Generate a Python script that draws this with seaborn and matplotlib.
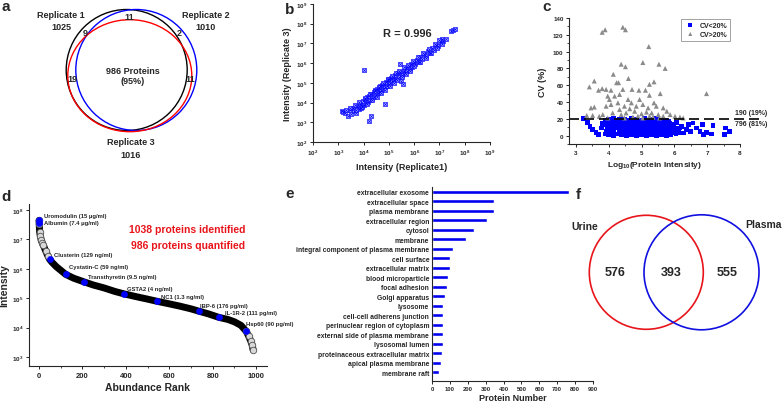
import numpy as np
import pandas as pd
import matplotlib
matplotlib.use("Agg")
import matplotlib.pyplot as plt
import seaborn as sns
from matplotlib.patches import Circle, Ellipse
from matplotlib.ticker import MultipleLocator, FixedLocator, NullLocator

W, H = 784, 402

# -----------------------------
# data
# -----------------------------
# a: replicate venn
rep_names = ["Replicate 1", "Replicate 2", "Replicate 3"]
rep_totals = [1025, 1010, 1016]
rep_overlaps = ["11", "9", "2", "19", "11"]
rep_common = 986
rep_common_pct = 95

# b: replicate1 vs replicate3 (log10 intensity)
rep1_log = [3.13, 3.19, 3.28, 3.39, 3.45, 3.52, 3.58, 3.63, 3.70, 3.74, 3.80, 3.85, 3.88, 3.93, 3.97,
            4.00, 4.02, 4.06, 4.10, 4.13, 4.18, 4.20, 4.22, 4.27, 4.30, 4.31, 4.35, 4.40, 4.42, 4.47,
            4.50, 4.53, 4.57, 4.60, 4.63, 4.66, 4.70, 4.73, 4.77, 4.80, 4.85, 4.85, 4.88, 4.92, 4.95,
            5.00, 5.02, 5.06, 5.10, 5.14, 5.18, 5.22, 5.26, 5.30, 5.35, 5.40, 5.45, 5.45, 5.48, 5.50,
            5.55, 5.58, 5.62, 5.68, 5.72, 5.78, 5.83, 5.88, 5.92, 5.98, 6.05, 6.10, 6.18, 6.25, 6.32,
            6.40, 6.48, 6.55, 6.62, 6.70, 6.78, 6.85, 6.95, 7.05, 7.12, 7.15, 7.25, 7.45, 7.55, 7.60,
            3.30, 3.48, 3.65, 3.72, 3.83, 3.95, 4.05, 4.12, 4.24, 4.33, 4.45, 4.52, 4.62, 4.68, 4.78,
            4.83, 4.97, 5.04, 5.12, 5.20, 5.28, 5.33, 5.42, 5.52, 5.60, 5.66, 5.75, 5.82, 5.95, 6.00,
            6.15, 6.22, 6.35, 6.45, 6.58, 6.68, 6.82, 6.92, 7.00, 7.10]
rep3_log = [3.58, 3.50, 3.45, 3.33, 3.62, 3.40, 3.75, 3.55, 3.48, 3.82, 3.66, 3.95, 3.72, 3.85, 4.10,
            5.65, 3.90, 4.18, 4.00, 4.28, 4.05, 3.06, 4.32, 4.15, 3.30, 4.45, 4.25, 4.55, 4.30, 4.62,
            4.40, 4.70, 4.48, 4.75, 4.55, 4.82, 4.62, 4.90, 4.70, 4.95, 3.92, 4.78, 5.05, 4.85, 5.12,
            4.92, 5.20, 5.00, 5.25, 5.08, 5.32, 5.15, 5.40, 5.22, 5.48, 5.30, 5.55, 5.95, 5.11, 5.38,
            4.94, 5.62, 5.48, 5.75, 5.58, 5.85, 5.70, 5.95, 5.80, 6.05, 5.95, 6.18, 6.08, 6.30, 6.20,
            6.45, 6.35, 6.60, 6.52, 6.75, 6.68, 6.90, 6.88, 7.08, 7.22, 7.12, 7.22, 7.62, 7.68, 7.72,
            3.60, 3.70, 3.88, 3.60, 4.02, 3.78, 4.25, 3.92, 4.42, 4.12, 4.58, 4.30, 4.80, 4.50, 4.98,
            4.62, 5.18, 4.82, 5.35, 5.00, 5.48, 5.12, 5.62, 5.28, 5.78, 5.45, 5.92, 5.60, 6.12, 5.85,
            6.32, 6.05, 6.50, 6.25, 6.72, 6.50, 6.98, 6.78, 7.18, 6.95]
r_value = 0.996

# c: CV vs log10 intensity
cv_low = [
    (3.22, 20), (3.36, 16), (3.43, 11), (3.51, 7), (3.61, 4), (3.69, 1), (3.77, 9), (3.82, 14), (3.92, 5),
    (3.90, 2), (3.90, 13), (3.90, 18),
    (4.00, 1), (4.00, 10), (4.00, 15), (4.00, 19),
    (4.08, 3), (4.08, 7), (4.08, 12), (4.08, 17),
    (4.15, 0), (4.15, 6), (4.15, 11), (4.15, 16), (4.15, 20),
    (4.25, 2), (4.25, 9), (4.25, 14), (4.25, 18),
    (4.32, 4), (4.32, 8), (4.32, 12), (4.32, 19),
    (4.40, 1), (4.40, 6), (4.40, 11), (4.40, 16),
    (4.47, 3), (4.47, 9), (4.47, 14), (4.47, 19),
    (4.55, 0), (4.55, 5), (4.55, 10), (4.55, 17),
    (4.62, 2), (4.62, 7), (4.62, 13), (4.62, 18),
    (4.70, 1), (4.70, 4), (4.70, 9), (4.70, 15), (4.70, 20),
    (4.78, 3), (4.78, 8), (4.78, 12), (4.78, 17),
    (4.85, 0), (4.85, 6), (4.85, 11), (4.85, 16), (4.85, 19),
    (4.93, 2), (4.93, 5), (4.93, 10), (4.93, 14), (4.93, 18),
    (5.00, 1), (5.00, 7), (5.00, 12), (5.00, 17),
    (5.08, 3), (5.08, 6), (5.08, 9), (5.08, 15), (5.08, 20),
    (5.15, 0), (5.15, 4), (5.15, 11), (5.15, 16),
    (5.22, 2), (5.22, 8), (5.22, 13), (5.22, 18),
    (5.30, 1), (5.30, 5), (5.30, 10), (5.30, 15), (5.30, 19),
    (5.38, 3), (5.38, 7), (5.38, 12), (5.38, 17),
    (5.45, 0), (5.45, 6), (5.45, 11), (5.45, 14), (5.45, 20),
    (5.52, 2), (5.52, 5), (5.52, 9), (5.52, 16),
    (5.60, 1), (5.60, 8), (5.60, 13), (5.60, 18),
    (5.68, 3), (5.68, 6), (5.68, 10), (5.68, 15),
    (5.75, 0), (5.75, 4), (5.75, 9), (5.75, 14),
    (5.83, 2), (5.83, 7), (5.83, 12), (5.83, 17),
    (5.90, 1), (5.90, 5), (5.90, 10),
    (5.98, 3), (5.98, 8), (5.98, 13),
    (6.05, 2), (6.05, 6), (6.07, 16), (6.12, 4), (6.12, 9),
    (6.17, 9), (6.27, 3), (6.37, 7), (6.42, 13), (6.57, 15), (6.67, 9), (6.78, 5), (6.86, 13),
    (6.88, 1), (6.98, 4), (7.13, 2), (7.18, 12), (7.54, 1), (7.56, 9), (7.67, 5),
    (3.96, 8), (4.04, 4), (4.20, 13), (4.36, 16), (4.52, 7), (4.66, 11), (4.82, 14), (4.97, 8),
    (5.12, 13), (5.26, 7), (5.42, 16), (5.56, 12), (5.72, 18), (5.87, 14), (6.22, 11), (6.48, 5),
]
cv_high = [
    (3.80, 123), (3.89, 126), (4.43, 129), (4.51, 126), (5.22, 106), (5.04, 87), (4.38, 85), (4.51, 82),
    (5.53, 85), (5.72, 80), (4.14, 73), (4.60, 68), (3.56, 65), (3.41, 58), (4.24, 63), (4.30, 63),
    (5.38, 64), (5.24, 61), (6.98, 50), (4.92, 54), (3.69, 54), (3.80, 56), (3.92, 55), (4.07, 54),
    (4.43, 55), (4.71, 55), (5.12, 54), (5.57, 50), (5.24, 48), (3.97, 47), (4.02, 43), (4.18, 47),
    (4.33, 49), (4.59, 43), (4.94, 43), (5.38, 39), (3.46, 33), (3.56, 34), (3.92, 35), (4.07, 37),
    (4.28, 39), (4.48, 35), (4.69, 39), (4.84, 35), (5.04, 37), (5.20, 33), (5.45, 35), (5.66, 33),
    (5.77, 29), (5.87, 25), (6.02, 23), (6.17, 22), (3.33, 24), (3.51, 24), (3.82, 25), (4.12, 27),
    (4.38, 25), (4.53, 27), (4.79, 29), (5.00, 26), (5.15, 28), (5.31, 27), (5.51, 25), (4.33, 31),
    (4.64, 32), (4.89, 23), (5.24, 23), (5.55, 21), (5.66, 23), (6.27, 21), (3.97, 21), (3.71, 23),
    (4.48, 21), (4.74, 22), (5.04, 21), (5.35, 22),
]
cv_cut = 20
n_above, n_below = 190, 796

# d: abundance rank curve (rank, log10 intensity)
rank_curve = [0, 1, 3, 6, 10, 15, 20, 30, 40, 49, 60, 80, 100, 123, 160, 206, 250, 300, 350, 391,
              450, 500, 542, 600, 650, 700, 737, 780, 829, 870, 900, 930, 954, 965, 975, 982, 986]
logint_curve = [7.64, 7.52, 7.25, 7.12, 6.98, 6.88, 6.80, 6.62, 6.45, 6.32, 6.22, 6.07, 5.95, 5.81,
                5.68, 5.56, 5.45, 5.35, 5.23, 5.15, 5.05, 4.97, 4.90, 4.81, 4.73, 4.64, 4.56, 4.47,
                4.35, 4.28, 4.20, 4.08, 3.88, 3.72, 3.55, 3.40, 3.25]
marker_names = ["Uromodulin (15 \u03bcg/ml)", "Albumin (7.4 \u03bcg/ml)", "Clusterin (129 ng/ml)",
                "Cystatin-C (59 ng/ml)", "Transthyretin (9.5 ng/ml)", "GSTA2 (4 ng/ml)",
                "NC1 (1.3 ng/ml)", "IBP-6 (176 pg/ml)", "IL-1R-2 (111 pg/ml)", "Hsp60 (90 pg/ml)"]
marker_rank = [0, 1, 49, 123, 206, 391, 542, 737, 829, 954]
marker_logint = [7.66, 7.56, 6.32, 5.81, 5.56, 5.15, 4.90, 4.56, 4.35, 3.88]
n_identified, n_quantified = 1038, 986

# e: GO cellular component
go_terms = ["extracellular exosome", "extracellular space", "plasma membrane", "extracellular region",
            "cytosol", "membrane", "integral component of plasma membrane", "cell surface",
            "extracellular matrix", "blood microparticle", "focal adhesion", "Golgi apparatus",
            "lysosome", "cell-cell adherens junction", "perinuclear region of cytoplasm",
            "external side of plasma membrane", "lysosomal lumen",
            "proteinaceous extracellular matrix", "apical plasma membrane", "membrane raft"]
go_counts = [765, 348, 345, 310, 236, 191, 116, 102, 100, 88, 82, 73, 64, 63, 61, 59, 59, 54, 51, 40]

# f: urine vs plasma venn
venn_f_names = ["Urine", "Plasma"]
venn_f_counts = [576, 393, 555]

# -----------------------------
# style
# -----------------------------
sns.set_style("ticks")
plt.rcParams['font.family'] = ['Liberation Sans', 'DejaVu Sans']
plt.rcParams['font.weight'] = 'bold'
plt.rcParams['axes.labelweight'] = 'bold'
plt.rcParams['mathtext.fontset'] = 'custom'
plt.rcParams['mathtext.rm'] = 'Liberation Sans:bold'
plt.rcParams['mathtext.bf'] = 'Liberation Sans:bold'
plt.rcParams['mathtext.it'] = 'Liberation Sans:bold'
plt.rcParams['axes.linewidth'] = 0.8
plt.rcParams['xtick.major.width'] = 0.7
plt.rcParams['ytick.major.width'] = 0.7
plt.rcParams['xtick.major.size'] = 2.5
plt.rcParams['ytick.major.size'] = 2.5
plt.rcParams['xtick.minor.size'] = 1.5
plt.rcParams['ytick.minor.size'] = 1.5


def px_axes(fig, left, top, right, bottom):
    return fig.add_axes([left / W, 1 - bottom / H, (right - left) / W, (bottom - top) / H])


def px_text(fig, x, y, s, **kw):
    fig.text(x / W, 1 - y / H, s, **kw)


fig = plt.figure(figsize=(7.84, 4.02), dpi=100)

# panel letters
for letter, (lx, ly) in zip("abcdef", [(1, 11), (285, 14), (542, 11), (1, 201), (285, 198), (576, 199)]):
    px_text(fig, lx, ly, letter, fontsize=11, fontweight='bold', va='baseline')

# -----------------------------
# a. venn of replicates
# -----------------------------
ax = px_axes(fig, 0, 0, 260, 170)
ax.set_xlim(0, 260)
ax.set_ylim(170, 0)
ax.axis('off')
ax.add_patch(Circle((126.7, 71), 60.5, fill=False, ec='black', lw=1.0))
ax.add_patch(Circle((136.3, 71), 60.5, fill=False, ec='blue', lw=1.0))
ax.add_patch(Ellipse((129.8, 76.7), 124, 112, fill=False, ec='red', lw=1.0))
fs = 6.5
for name, tot, (tx, ty) in zip(rep_names, rep_totals, [(61, 15), (206, 15), (131, 143)]):
    ax.text(tx, ty, name, ha='center', va='center', fontsize=fs)
    ax.text(tx, ty + 13, str(tot), ha='center', va='center', fontsize=fs)
for s, (tx, ty) in zip(rep_overlaps, [(129, 17), (85, 33), (179, 33), (72, 79), (190, 80)]):
    ax.text(tx, ty, s, ha='center', va='center', fontsize=fs)
ax.text(133, 71, f"{rep_common} Proteins", ha='center', va='center', fontsize=fs)
ax.text(133, 82, f"({rep_common_pct}%)", ha='center', va='center', fontsize=fs)

# -----------------------------
# b. replicate correlation
# -----------------------------
ax = px_axes(fig, 313, 5, 490, 143)
df_b = pd.DataFrame({"rep1": 10 ** np.array(rep1_log), "rep3": 10 ** np.array(rep3_log)})
ax.set_xscale('log')
ax.set_yscale('log')
sns.scatterplot(data=df_b, x="rep1", y="rep3", ax=ax, marker='s', s=11,
                facecolor='#a8a8ff', edgecolor='blue', linewidth=0.5, alpha=0.9)
sns.scatterplot(data=df_b, x="rep1", y="rep3", ax=ax, marker='x', s=6, color='blue', linewidth=0.4)
ax.set_xlim(1e2, 1e9)
ax.set_ylim(1e2, 1e9)
ax.xaxis.set_major_locator(FixedLocator([10.0 ** k for k in range(2, 10)]))
ax.yaxis.set_major_locator(FixedLocator([10.0 ** k for k in range(2, 10)]))
ax.xaxis.set_minor_locator(NullLocator())
ax.yaxis.set_minor_locator(NullLocator())
ax.tick_params(labelsize=4.5, pad=1.5)
ax.set_xlabel("Intensity (Replicate1)", fontsize=6.5, labelpad=4)
ax.set_ylabel("Intensity (Replicate 3)", fontsize=6.5, labelpad=3)
ax.text(10 ** 4.77, 10 ** 7.55, f"R = {r_value}", fontsize=8, fontweight='bold', ha='left', va='center')
sns.despine(ax=ax)

# -----------------------------
# c. CV distribution
# -----------------------------
ax = px_axes(fig, 569, 19, 740, 145)
lo = pd.DataFrame(cv_low, columns=["logi", "cv"])
hi = pd.DataFrame(cv_high, columns=["logi", "cv"])
sns.scatterplot(data=lo, x="logi", y="cv", ax=ax, marker='s', s=12, color='blue', edgecolor='none',
                label="CV<20%")
sns.scatterplot(data=hi, x="logi", y="cv", ax=ax, marker='^', s=13, color='#8a8a8a', edgecolor='none',
                label="CV>20%")
ax.axhline(cv_cut, xmin=0, xmax=1.11, color='black', lw=1.2, ls=(0, (6, 3)), clip_on=False)
ax.set_xlim(2.79, 8)
ax.set_ylim(-10, 140)
ax.xaxis.set_major_locator(MultipleLocator(1))
ax.xaxis.set_minor_locator(MultipleLocator(0.5))
ax.yaxis.set_major_locator(MultipleLocator(20))
ax.yaxis.set_minor_locator(MultipleLocator(10))
ax.tick_params(labelsize=4.5, pad=1.5)
ax.set_xlabel("Log$_{10}$(Protein Intensity)", fontsize=6, labelpad=3)
ax.set_ylabel("CV (%)", fontsize=6.5, labelpad=4)
ax.text(0.97, (cv_cut + 7 + 10) / 150, f"{n_above} (19%)", transform=ax.transAxes, fontsize=5,
        ha='left', va='center', clip_on=False)
ax.text(0.97, (cv_cut - 6 + 10) / 150, f"{n_below} (81%)", transform=ax.transAxes, fontsize=5,
        ha='left', va='center', clip_on=False)
leg = ax.legend(loc='upper right', bbox_to_anchor=(0.96, 1.02), fontsize=5, frameon=True,
                fancybox=False, edgecolor='#777777', handletextpad=0.3, borderpad=0.4,
                labelspacing=0.3, markerscale=0.8)
leg.get_frame().set_linewidth(0.6)
sns.despine(ax=ax)

# -----------------------------
# d. abundance rank
# -----------------------------
ax = px_axes(fig, 29, 205, 267, 367)
ax.set_yscale('log')
df_d = pd.DataFrame({"rank": rank_curve, "intensity": 10 ** np.array(logint_curve)})
sns.lineplot(data=df_d, x="rank", y="intensity", ax=ax, color='black', lw=5, sort=True)
ends = df_d[(df_d["rank"] < 45) | (df_d["rank"] > 950)]
sns.scatterplot(data=ends, x="rank", y="intensity", ax=ax, marker='o', s=22,
                facecolor='#d8d8d8', edgecolor='#555555', linewidth=0.6, zorder=3)
df_m = pd.DataFrame({"rank": marker_rank, "intensity": 10 ** np.array(marker_logint), "name": marker_names})
sns.scatterplot(data=df_m, x="rank", y="intensity", ax=ax, marker='o', s=20, color='blue',
                edgecolor='blue', zorder=4)
label_pos = [(23, 7.80), (23, 7.56), (69, 6.50), (138, 6.07), (228, 5.73), (403, 5.32),
             (564, 5.06), (740, 4.77), (855, 4.50), (955, 4.13)]
for name, (lx, ly) in zip(marker_names, label_pos):
    ax.text(lx, 10 ** ly, name, fontsize=4.2, ha='left', va='center', clip_on=False)
ax.text(685, 10 ** 7.35, f"{n_identified} proteins identified", color='#e8141a', fontsize=7.5,
        ha='center', va='center')
ax.text(685, 10 ** 6.80, f"{n_quantified} proteins quantified", color='#e8141a', fontsize=7.5,
        ha='center', va='center')
ax.set_xlim(-46, 1050)
ax.set_ylim(10 ** 2.7, 10 ** 8.2)
ax.xaxis.set_major_locator(MultipleLocator(200))
ax.xaxis.set_minor_locator(MultipleLocator(100))
ax.yaxis.set_major_locator(FixedLocator([10.0 ** k for k in range(3, 9)]))
ax.yaxis.set_minor_locator(NullLocator())
ax.tick_params(axis='x', labelsize=5.5, pad=2)
ax.tick_params(axis='y', labelsize=4.5, pad=1.5)
ax.set_xlabel("Abundance Rank", fontsize=7.5, labelpad=2)
ax.set_ylabel("Intensity", fontsize=7.5, labelpad=2)
sns.despine(ax=ax)

# -----------------------------
# e. GO bars
# -----------------------------
ax = px_axes(fig, 432, 188, 593, 382)
df_e = pd.DataFrame({"term": go_terms, "count": go_counts})
sns.barplot(data=df_e, x="count", y="term", ax=ax, orient='h', color='#0000ee', width=0.42,
            saturation=1)
ax.set_xlim(0, 900)
ax.set_ylim(19.9, -0.5)
ax.xaxis.set_major_locator(MultipleLocator(100))
ax.tick_params(axis='x', labelsize=4.2, pad=1.5, length=2)
ax.tick_params(axis='y', labelsize=4.9, pad=2, length=0)
ax.set_xlabel("Protein Number", fontsize=6.5, labelpad=1.5)
ax.set_ylabel("")
sns.despine(ax=ax)

# -----------------------------
# f. urine vs plasma
# -----------------------------
ax = px_axes(fig, 540, 190, 784, 350)
ax.set_xlim(540, 784)
ax.set_ylim(350, 190)
ax.axis('off')
ax.add_patch(Circle((646.3, 273.3), 57, fill=False, ec='#e8141a', lw=1.2))
ax.add_patch(Circle((701.5, 273.3), 57.5, fill=False, ec='#1010e0', lw=1.2))
ax.text(585, 227, venn_f_names[0], ha='center', va='center', fontsize=7.5)
ax.text(764, 225, venn_f_names[1], ha='center', va='center', fontsize=7.5)
for c, tx in zip(venn_f_counts, [615.5, 671.7, 727.5]):
    ax.text(tx, 273.3, str(c), ha='center', va='center', fontsize=9)

plt.savefig("out.png", dpi=100)
